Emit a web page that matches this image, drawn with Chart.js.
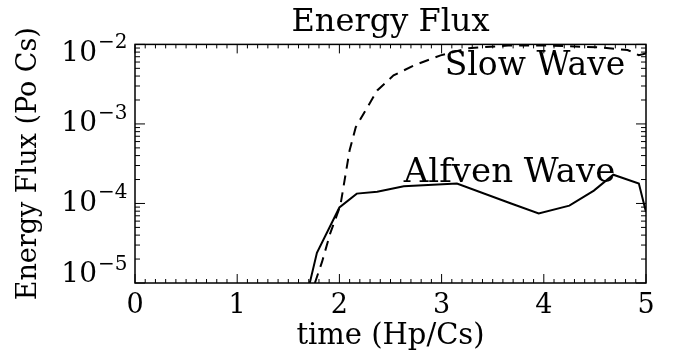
<!DOCTYPE html>
<html>
<head>
<meta charset="utf-8">
<script src="https://cdn.jsdelivr.net/npm/chart.js@4.4.1/dist/chart.umd.min.js"></script>
<style>
html, body { margin: 0; padding: 0; background: #fff; }
</style>
</head>
<body>
<canvas id="chart" width="674" height="358"></canvas>
<script>
// tick labels
const xTickLabels = ['0', '1', '2', '3', '4', '5'];
const yExponents = [-5, -4, -3, -2];

// Alfven wave (solid line)
const alfvenTime = [1.71, 1.78, 2.0, 2.17, 2.37, 2.63, 2.82, 3.15, 3.68, 3.95, 4.25, 4.49, 4.68, 4.93, 5.0];
const alfvenFlux = [1.0e-5, 2.4e-5, 8.9e-5, 1.33e-4, 1.4e-4, 1.65e-4, 1.7e-4, 1.78e-4, 1.0e-4, 7.5e-5, 9.4e-5, 1.45e-4, 2.3e-4, 1.78e-4, 7.8e-5];

// slow wave (dashed line)
const slowTime = [1.76, 1.83, 1.91, 2.01, 2.1, 2.16, 2.37, 2.53, 2.73, 2.99, 3.25, 3.65, 4.04, 4.53, 4.82, 4.93, 5.0];
const slowFlux = [1.0e-5, 1.84e-5, 4.2e-5, 9.5e-5, 4.67e-4, 9.1e-4, 2.64e-3, 4.08e-3, 5.45e-3, 7.28e-3, 8.9e-3, 9.7e-3, 9.7e-3, 9.2e-3, 8.5e-3, 7.3e-3, 7.7e-3];

const FONT = "'DejaVu Serif', serif";

function pairs(xs, ys) {
  return xs.map((x, i) => ({ x: x, y: ys[i] }));
}

// IDL style box: inward ticks, superscript decade labels, curve names
const frame = {
  id: 'frame',
  afterDraw(chart) {
    const ctx = chart.ctx;
    const a = chart.chartArea;
    const xs = chart.scales.x;
    const ys = chart.scales.y;
    ctx.save();
    ctx.strokeStyle = '#000';
    ctx.lineWidth = 1.5;
    ctx.strokeRect(a.left, a.top, a.right - a.left, a.bottom - a.top);

    ctx.lineWidth = 1;
    ctx.beginPath();
    for (let i = 0; i <= 50; i++) {
      const px = xs.getPixelForValue(i / 10);
      const len = i % 10 === 0 ? 9 : 4;
      ctx.moveTo(px, a.bottom); ctx.lineTo(px, a.bottom - len);
      ctx.moveTo(px, a.top); ctx.lineTo(px, a.top + len);
    }
    yExponents.forEach((e, k) => {
      const last = k === yExponents.length - 1;
      for (let m = 1; m <= (last ? 1 : 9); m++) {
        const py = ys.getPixelForValue(m * Math.pow(10, e));
        const len = m === 1 ? 10 : 5;
        ctx.moveTo(a.left, py); ctx.lineTo(a.left + len, py);
        ctx.moveTo(a.right, py); ctx.lineTo(a.right - len, py);
      }
    });
    ctx.stroke();

    // decade labels 10^-n
    ctx.fillStyle = '#000';
    yExponents.forEach(e => {
      const py = ys.getPixelForValue(Math.pow(10, e));
      const cy = Math.min(Math.max(py, a.top + 9), a.bottom - 8);
      ctx.font = '28px ' + FONT;
      ctx.textAlign = 'right';
      ctx.textBaseline = 'middle';
      ctx.fillText('10', 97, cy);
      ctx.font = '20px ' + FONT;
      ctx.textAlign = 'left';
      ctx.textBaseline = 'alphabetic';
      ctx.fillText('\u2212' + Math.abs(e), 98, cy - 5);
    });

    ctx.font = '33px ' + FONT;
    ctx.textAlign = 'left';
    ctx.textBaseline = 'alphabetic';
    ctx.fillText('Slow Wave', xs.getPixelForValue(3.03), ys.getPixelForValue(4.07e-3));
    ctx.font = '34px ' + FONT;
    ctx.fillText('Alfven Wave', xs.getPixelForValue(2.63), ys.getPixelForValue(1.85e-4));
    ctx.restore();
  }
};

new Chart(document.getElementById('chart'), {
  type: 'line',
  data: {
    datasets: [{
      label: 'Slow Wave',
      data: pairs(slowTime, slowFlux),
      borderColor: '#000',
      borderWidth: 2,
      borderDash: [10, 7],
      pointRadius: 0,
      tension: 0,
      fill: false
    }, {
      label: 'Alfven Wave',
      data: pairs(alfvenTime, alfvenFlux),
      borderColor: '#000',
      borderWidth: 2,
      pointRadius: 0,
      tension: 0,
      fill: false
    }]
  },
  options: {
    responsive: false,
    animation: false,
    layout: { padding: { left: 0, right: 28, top: 0, bottom: 0 } },
    plugins: {
      legend: { display: false },
      tooltip: { enabled: false },
      title: {
        display: true,
        text: 'Energy Flux',
        fullSize: false,
        color: '#000',
        font: { family: FONT, size: 32, weight: 'normal', lineHeight: 1.2 },
        padding: { top: 3, bottom: 3 }
      }
    },
    scales: {
      x: {
        type: 'linear',
        min: 0,
        max: 5,
        grid: { display: false, drawTicks: false },
        border: { display: false },
        ticks: {
          stepSize: 1,
          color: '#000',
          padding: 7,
          maxRotation: 0,
          font: { family: FONT, size: 27 },
          callback: (v, i) => xTickLabels[i]
        },
        title: {
          display: true,
          text: 'time (Hp/Cs)',
          color: '#000',
          font: { family: FONT, size: 29 },
          padding: { top: 0, bottom: 4 }
        },
        afterFit(s) { s.height = 75; }
      },
      y: {
        type: 'logarithmic',
        min: 1e-5,
        max: 1e-2,
        grid: { display: false, drawTicks: false },
        border: { display: false },
        ticks: { display: false },
        title: {
          display: true,
          text: 'Energy Flux (Po Cs)',
          color: '#000',
          font: { family: FONT, size: 27 },
          padding: { top: 13, bottom: 0 }
        },
        afterFit(s) { s.width = 135; }
      }
    }
  },
  plugins: [frame]
});
</script>
</body>
</html>
